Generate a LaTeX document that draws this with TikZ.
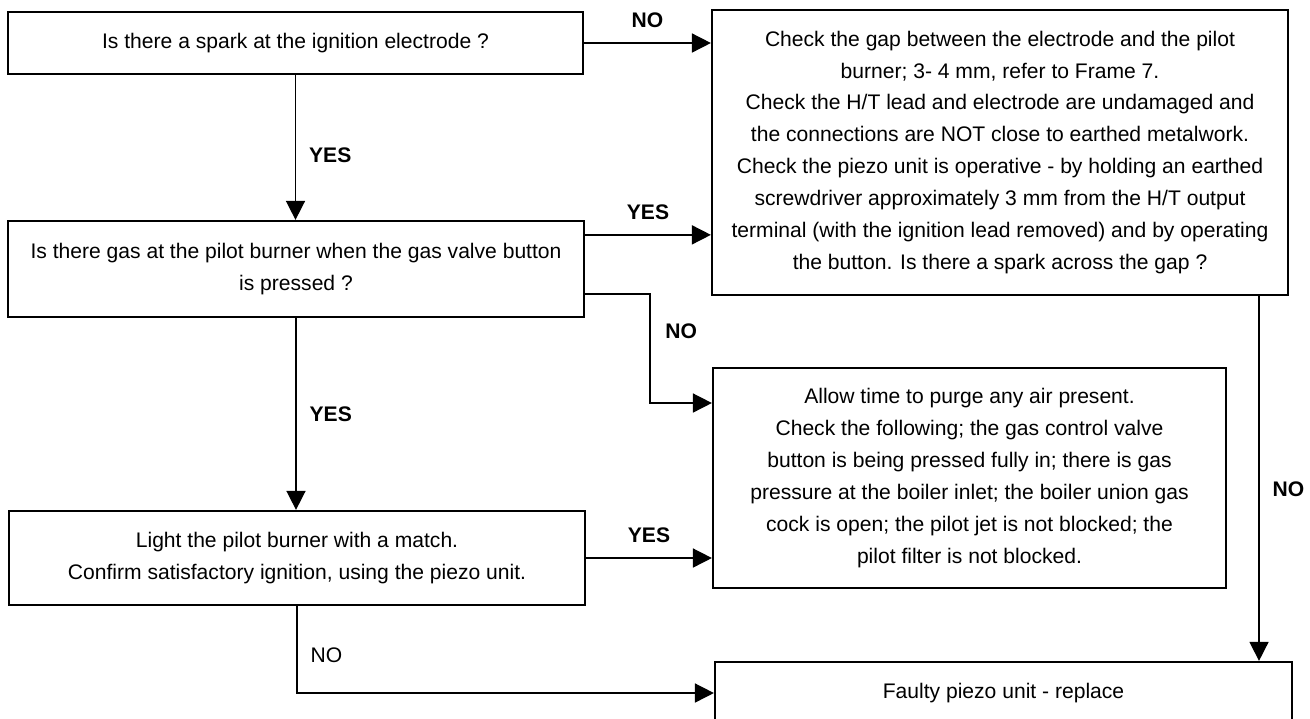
\documentclass[tikz,border=0pt]{standalone}
\usepackage{fontspec}
\setmainfont{Liberation Sans}
\usetikzlibrary{arrows.meta}

\begin{document}
\begin{tikzpicture}[x=0.02cm, y=-0.02cm,
    box/.style={draw, line width=1.3pt, align=center, inner sep=2pt, font=\fontsize{12}{18.2}\selectfont},
    arr/.style={line width=0.9pt, -{Triangle[length=0.38cm, width=0.38cm]}},
    lbl/.style={font=\fontsize{12}{14}\selectfont\bfseries}]
    \useasboundingbox[fill=white] (0,0) rectangle (1310,718);

    % Boxes
    \node[box, minimum width=11.5cm, minimum height=1.24cm] (spark) at (295.5,43) {Is there a spark at the ignition electrode ?};
    \node[box, minimum width=11.52cm, minimum height=5.7cm] (check) at (1000,152.5) {Check the gap between the electrode and the pilot\\
        burner; 3- 4 mm, refer to Frame 7.\\
        Check the H/T lead and electrode are undamaged and\\
        the connections are NOT close to earthed metalwork.\\
        Check the piezo unit is operative - by holding an earthed\\
        screwdriver approximately 3 mm from the H/T output\\
        terminal (with the ignition lead removed) and by operating\\
        the button. Is there a spark across the gap ?};
    \node[box, minimum width=11.52cm, minimum height=1.92cm] (gas) at (296,269) {Is there gas at the pilot burner when the gas valve button\\ is pressed ?};
    \node[box, minimum width=10.26cm, minimum height=4.4cm] (purge) at (969.5,478) {Allow time to purge any air present.\\
        Check the following; the gas control valve\\
        button is being pressed fully in; there is gas\\
        pressure at the boiler inlet; the boiler union gas\\
        cock is open; the pilot jet is not blocked; the\\
        pilot filter is not blocked.};
    \node[box, minimum width=11.52cm, minimum height=1.88cm] (light) at (297,558) {Light the pilot burner with a match.\\ Confirm satisfactory ignition, using the piezo unit.};
    \node[box, minimum width=11.54cm, minimum height=1.24cm] (faulty) at (1003.5,693) {Faulty piezo unit - replace};

    % Connectors with labels
    \coordinate (bend) at (650,403);
    \coordinate (drop) at (1259,295);
    \draw[arr] (spark) -- (spark -| check.west) node[lbl, midway, above=5pt] (no1) {NO};
    \draw[arr] (spark.south) -- (spark.south |- gas.north) node[lbl, pos=0.55, right=4pt] (yes1) {YES};
    \draw[arr] ([yshift=-0.3cm]gas.north east) -- ([yshift=-0.3cm]gas.north east -| check.west) node[lbl, midway, above=5pt] (yes2) {YES};
    \draw[arr] ([yshift=0.48cm]gas.south east) -| (bend) node[lbl, pos=0.67, right=5pt] (no2) {NO} -- (bend -| purge.west);
    \draw[arr] (gas.south) -- (gas.south |- light.north) node[lbl, midway, right=4pt] (yes3) {YES};
    \draw[arr] (light) -- (light -| purge.west) node[lbl, midway, above=5pt] (yes4) {YES};
    \draw[arr] (drop) -- (drop |- faulty.north) node[lbl, pos=0.53, right=4pt] (no3) {NO};
    \draw[arr] (light.south) |- (faulty.west) node[pos=0.28, right=4pt, font=\fontsize{12}{14}\selectfont] (no4) {NO};
\end{tikzpicture}
\end{document}
